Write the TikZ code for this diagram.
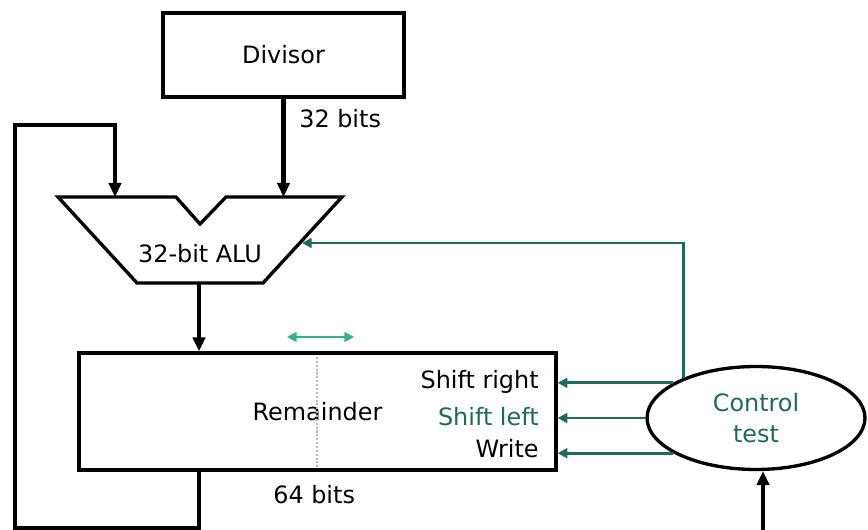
\documentclass[tikz,border=0pt]{standalone}
\usepackage{fontspec}
\setmainfont{DejaVu Sans}
\usepackage{xcolor}
\usetikzlibrary{arrows.meta,positioning,shapes.geometric}

\definecolor{ctlgreen}{HTML}{1D6B58}
\definecolor{shiftgreen}{HTML}{2FB58E}

\begin{document}
\begin{tikzpicture}[
      x=0.02cm, y=-0.02cm,
      every node/.style={font=\fontsize{13.6}{17.6}\selectfont},
      box/.style={rectangle, draw, line width=1.9pt, inner sep=0pt},
      lbl/.style={inner sep=0pt},
      bus/.style={line width=2.6pt, -{Triangle[length=8pt,width=7pt]}},
      ctl/.style={draw=ctlgreen, line width=1.5pt, -{Triangle[length=5.5pt,width=5.5pt]}},
      >=Stealth]
    \useasboundingbox (0,0) rectangle (868,530);
    % registers and control
    \node[box, minimum width=4.82cm, minimum height=1.68cm] (div) at (283.5,55) {Divisor};
    \node[box, minimum width=9.54cm, minimum height=2.34cm] (rem) at (317.5,411.5) {Remainder};
    \node[ellipse, draw, line width=1.9pt, minimum width=4.36cm, minimum height=2.06cm,
      inner sep=0pt, align=center, text=ctlgreen] (ctlr) at (756,418) {Control\\test};
    \node[lbl, anchor=base east] (sr) at (539,388) {Shift right};
    \node[lbl, anchor=base east, text=ctlgreen] (sl) at (539,425) {Shift left};
    \node[lbl, anchor=base east] (wr) at (539,457) {Write};
    \node[lbl, anchor=base west] (b32) at (299,128) {32 bits};
    \node[lbl, anchor=base west] (b64) at (273,503) {64 bits};
    % the ALU
    \draw[line width=1.9pt] (58,197) -- (176,197) -- (200,224) -- (226,197) -- (342,197)
      -- (263,283) -- (137,283) -- cycle;
    \node[lbl, anchor=base] (alutxt) at (200,262) {32-bit ALU};
    \coordinate (alua) at (115,197);
    \coordinate (alub) at (283.5,197);
    \coordinate (aluo) at (199,283);
    \coordinate (alur) at (302,243);
    \coordinate (loopbl) at (15,528);
    \coordinate (looptl) at (15,125);
    \coordinate (ctlin) at (763,530);
    \coordinate (shl) at (287,337);
    \coordinate (shr) at (354,337);
    \draw[gray!55, densely dotted, line width=1.2pt] (317,357) -- (317,467);
    \draw[shiftgreen, line width=1.5pt,
      {Triangle[length=5.5pt,width=5.5pt]}-{Triangle[length=5.5pt,width=5.5pt]}] (shl) -- (shr);
    % data paths
    \draw[bus] (div.south) -- (alub);
    \draw[bus] (aluo) -- (aluo |- rem.north);
    \draw[bus] (rem.south -| aluo) |- (loopbl) -- (looptl) -| (alua);
    \draw[bus] (ctlin) -- (ctlin |- ctlr.south);
    % control lines
    \draw[ctl] (ctlr.151) |- (alur);
    \draw[ctl] (ctlr.157) -- (ctlr.157 -| rem.east);
    \draw[ctl] (ctlr.west) -- (ctlr.west -| rem.east);
    \draw[ctl] (ctlr.203) -- (ctlr.203 -| rem.east);
  \end{tikzpicture}
\end{document}
